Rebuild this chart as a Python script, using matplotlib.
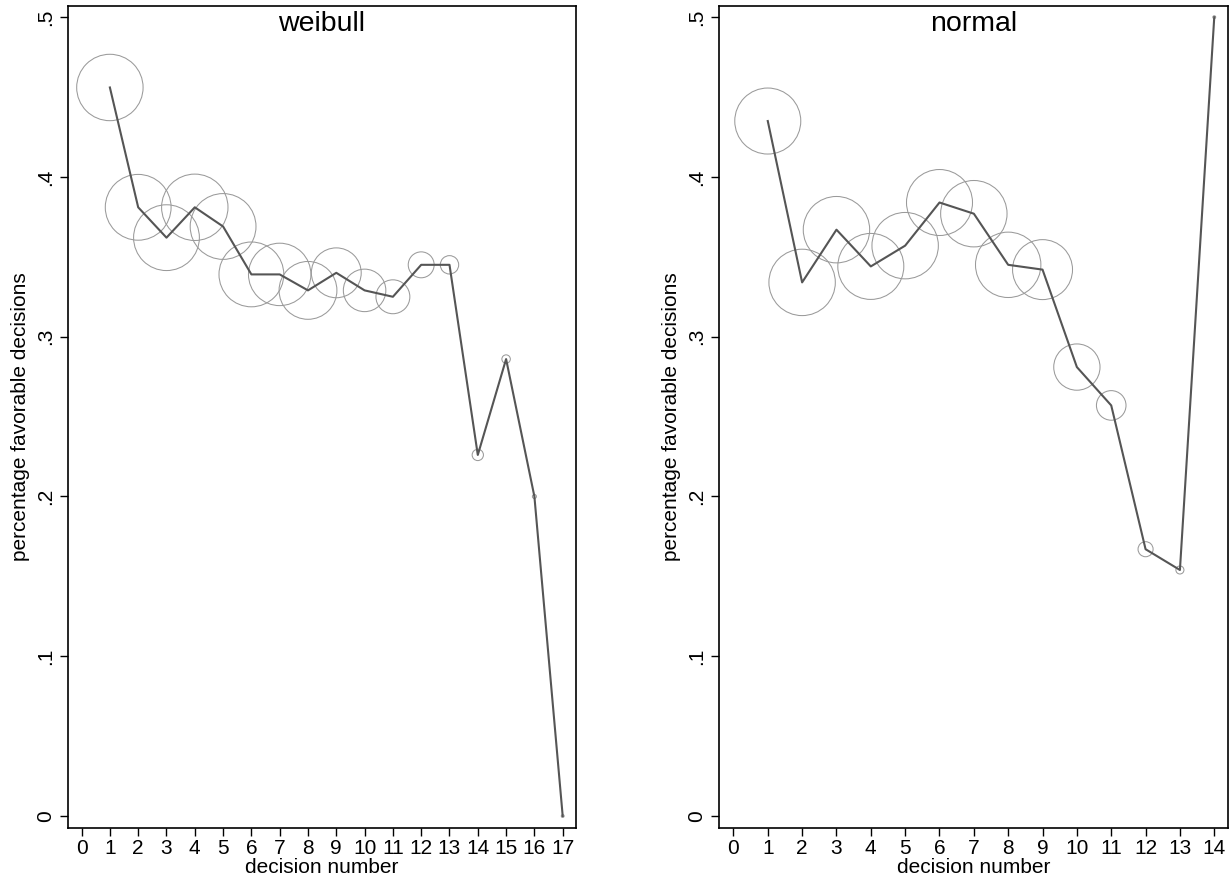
import matplotlib
matplotlib.use("Agg")
import matplotlib.pyplot as plt
import numpy as np

plt.rcParams['font.family'] = ['Liberation Sans', 'DejaVu Sans']

# ---- data ----
weibull_x = list(range(1, 18))
weibull_y = [0.456, 0.381, 0.362, 0.381, 0.369, 0.339, 0.339, 0.329, 0.340,
             0.329, 0.325, 0.345, 0.345, 0.226, 0.286, 0.200, 0.000]
weibull_w = [1109, 1089, 1089, 1109, 1089, 1056, 980, 841, 625,
             454, 289, 169, 85, 32, 18, 4, 2]

normal_x = list(range(1, 15))
normal_y = [0.435, 0.334, 0.367, 0.344, 0.357, 0.384, 0.377, 0.345, 0.342,
            0.281, 0.257, 0.167, 0.154, 0.500]
normal_w = [1076, 1089, 1089, 1076, 1089, 1076, 1089, 1056, 888,
            529, 216, 56, 16, 2]

panels = [("weibull", weibull_x, weibull_y, weibull_w, 17),
          ("normal", normal_x, normal_y, normal_w, 14)]
yticks = [0, 0.1, 0.2, 0.3, 0.4, 0.5]
ytick_labels = ["0", ".1", ".2", ".3", ".4", ".5"]

W, H = 1230, 884
fig = plt.figure(figsize=(W / 100, H / 100), dpi=100)
fig.patch.set_facecolor("white")

axes_px = [(68, 576), (719, 1228)]
top_px, bot_px = 6, 828
xlims = [(-0.48, 17.47), (-0.42, 14.4)]
RMAX = 33.2  # pixel radius of largest marker

for (title, xs, ys, ws, xmax), (l, r), xl in zip(panels, axes_px, xlims):
    ax = fig.add_axes([l / W, (H - bot_px) / H, (r - l) / W, (bot_px - top_px) / H])
    ws = np.asarray(ws, dtype=float)
    radii_px = RMAX * np.sqrt(ws / ws.max())
    sizes = (2 * radii_px * 0.72) ** 2
    ax.scatter(xs, ys, s=sizes, facecolors="none", edgecolors="#9a9a9a",
               linewidths=0.75, zorder=2)
    ax.plot(xs, ys, color="#555555", linewidth=1.5, zorder=3)
    ax.set_xlim(*xl)
    ax.set_ylim(-0.0075, 0.507)
    ax.set_xticks(range(0, xmax + 1))
    ax.set_xticklabels([str(i) for i in range(0, xmax + 1)])
    ax.set_yticks(yticks)
    ax.set_yticklabels(ytick_labels, rotation=90, va="center")
    ax.tick_params(axis="both", direction="out", length=6, width=1.0,
                   labelsize=15, colors="black")
    ax.tick_params(axis="x", pad=2)
    ax.tick_params(axis="y", pad=3)
    for sp in ax.spines.values():
        sp.set_linewidth(1.2)
        sp.set_color("black")
    ax.set_xlabel("decision number", fontsize=15, labelpad=0)
    ax.set_ylabel("percentage favorable decisions", fontsize=15, labelpad=5)
    ax.text(0.5, 0.994, title, transform=ax.transAxes, ha="center", va="top",
            fontsize=20.5)

fig.savefig("out.png", dpi=100, facecolor="white")
